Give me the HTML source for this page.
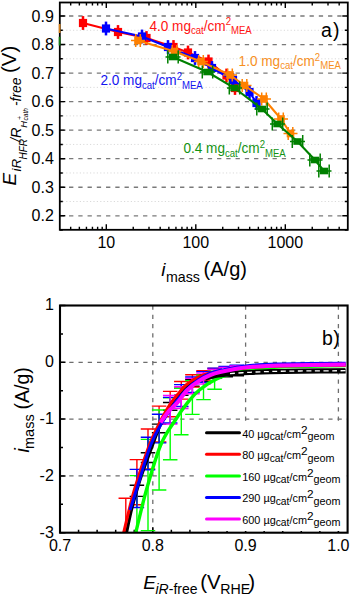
<!DOCTYPE html><html><head><meta charset="utf-8"><style>html,body{margin:0;padding:0;width:350px;height:596px;overflow:hidden;background:#fff}</style></head><body><svg width="350" height="596" viewBox="0 0 350 596" style="display:block;position:absolute;left:0;top:0">
<rect width="350" height="596" fill="#fff"/>
<line x1="59.8" y1="215.78" x2="347.8" y2="215.78" stroke="#7a7a7a" stroke-width="1.3" stroke-dasharray="4.3 4.95"/>
<line x1="59.8" y1="187.24" x2="347.8" y2="187.24" stroke="#7a7a7a" stroke-width="1.3" stroke-dasharray="4.3 4.95"/>
<line x1="59.8" y1="158.70" x2="347.8" y2="158.70" stroke="#7a7a7a" stroke-width="1.3" stroke-dasharray="4.3 4.95"/>
<line x1="59.8" y1="130.16" x2="347.8" y2="130.16" stroke="#7a7a7a" stroke-width="1.3" stroke-dasharray="4.3 4.95"/>
<line x1="59.8" y1="101.62" x2="347.8" y2="101.62" stroke="#7a7a7a" stroke-width="1.3" stroke-dasharray="4.3 4.95"/>
<line x1="59.8" y1="73.08" x2="347.8" y2="73.08" stroke="#7a7a7a" stroke-width="1.3" stroke-dasharray="4.3 4.95"/>
<line x1="59.8" y1="44.54" x2="347.8" y2="44.54" stroke="#7a7a7a" stroke-width="1.3" stroke-dasharray="4.3 4.95"/>
<line x1="59.8" y1="16.00" x2="347.8" y2="16.00" stroke="#7a7a7a" stroke-width="1.3" stroke-dasharray="4.3 4.95"/>
<line x1="62.8" y1="201.51" x2="347.8" y2="201.51" stroke="#dadada" stroke-width="1" stroke-dasharray="1.2 2.2"/>
<line x1="62.8" y1="172.97" x2="347.8" y2="172.97" stroke="#dadada" stroke-width="1" stroke-dasharray="1.2 2.2"/>
<line x1="62.8" y1="144.43" x2="347.8" y2="144.43" stroke="#dadada" stroke-width="1" stroke-dasharray="1.2 2.2"/>
<line x1="62.8" y1="115.89" x2="347.8" y2="115.89" stroke="#dadada" stroke-width="1" stroke-dasharray="1.2 2.2"/>
<line x1="62.8" y1="87.35" x2="347.8" y2="87.35" stroke="#dadada" stroke-width="1" stroke-dasharray="1.2 2.2"/>
<line x1="62.8" y1="58.81" x2="347.8" y2="58.81" stroke="#dadada" stroke-width="1" stroke-dasharray="1.2 2.2"/>
<line x1="62.8" y1="30.27" x2="347.8" y2="30.27" stroke="#dadada" stroke-width="1" stroke-dasharray="1.2 2.2"/>
<path d="M59.8,215.78h5.5M347.8,215.78h-5.5M59.8,187.24h5.5M347.8,187.24h-5.5M59.8,158.70h5.5M347.8,158.70h-5.5M59.8,130.16h5.5M347.8,130.16h-5.5M59.8,101.62h5.5M347.8,101.62h-5.5M59.8,73.08h5.5M347.8,73.08h-5.5M59.8,44.54h5.5M347.8,44.54h-5.5M59.8,16.00h5.5M347.8,16.00h-5.5M59.8,230.05h3M347.8,230.05h-3M59.8,201.51h3M347.8,201.51h-3M59.8,172.97h3M347.8,172.97h-3M59.8,144.43h3M347.8,144.43h-3M59.8,115.89h3M347.8,115.89h-3M59.8,87.35h3M347.8,87.35h-3M59.8,58.81h3M347.8,58.81h-3M59.8,30.27h3M347.8,30.27h-3M70.68,229.8v-3M70.68,2.5v3M79.36,229.8v-3M79.36,2.5v3M86.44,229.8v-3M86.44,2.5v3M92.44,229.8v-3M92.44,2.5v3M97.63,229.8v-3M97.63,2.5v3M102.20,229.8v-3M102.20,2.5v3M106.30,229.8v-5.5M106.30,2.5v5.5M133.24,229.8v-3M133.24,2.5v3M149.00,229.8v-3M149.00,2.5v3M160.18,229.8v-3M160.18,2.5v3M168.86,229.8v-3M168.86,2.5v3M175.94,229.8v-3M175.94,2.5v3M181.94,229.8v-3M181.94,2.5v3M187.13,229.8v-3M187.13,2.5v3M191.70,229.8v-3M191.70,2.5v3M195.80,229.8v-5.5M195.80,2.5v5.5M222.74,229.8v-3M222.74,2.5v3M238.50,229.8v-3M238.50,2.5v3M249.68,229.8v-3M249.68,2.5v3M258.36,229.8v-3M258.36,2.5v3M265.44,229.8v-3M265.44,2.5v3M271.44,229.8v-3M271.44,2.5v3M276.63,229.8v-3M276.63,2.5v3M281.20,229.8v-3M281.20,2.5v3M285.30,229.8v-5.5M285.30,2.5v5.5M312.24,229.8v-3M312.24,2.5v3M328.00,229.8v-3M328.00,2.5v3M339.18,229.8v-3M339.18,2.5v3" stroke="#000" stroke-width="1.4" fill="none"/>
<rect x="78.9" y="18.9" width="8.2" height="8.2" fill="#ff0000"/><rect x="81.75" y="16.1" width="2.5" height="13.8" fill="#ff0000"/><rect x="113.9" y="27.9" width="8.2" height="8.2" fill="#ff0000"/><rect x="116.75" y="25.1" width="2.5" height="13.8" fill="#ff0000"/><rect x="142.4" y="33.9" width="8.2" height="8.2" fill="#ff0000"/><rect x="145.25" y="31.1" width="2.5" height="13.8" fill="#ff0000"/><rect x="169.4" y="42.9" width="8.2" height="8.2" fill="#ff0000"/><rect x="172.25" y="40.1" width="2.5" height="13.8" fill="#ff0000"/><rect x="183.9" y="48.4" width="8.2" height="8.2" fill="#ff0000"/><rect x="186.75" y="45.6" width="2.5" height="13.8" fill="#ff0000"/><rect x="204.4" y="57.4" width="8.2" height="8.2" fill="#ff0000"/><rect x="207.25" y="54.6" width="2.5" height="13.8" fill="#ff0000"/><rect x="222.4" y="71.4" width="8.2" height="8.2" fill="#ff0000"/><rect x="225.25" y="68.6" width="2.5" height="13.8" fill="#ff0000"/><rect x="230.9" y="83.9" width="8.2" height="8.2" fill="#ff0000"/><rect x="233.75" y="81.1" width="2.5" height="13.8" fill="#ff0000"/>
<path d="M83,23 L118,32 L146.5,38 L173.5,47 L188,52.5 L208.5,61.5 L226.5,75.5 L235,88" stroke="#ff0000" stroke-width="2.1" fill="none"/>
<rect x="101.9" y="24.4" width="8.2" height="8.2" fill="#0000ff"/><rect x="104.75" y="21.6" width="2.5" height="13.8" fill="#0000ff"/><rect x="137.9" y="32.4" width="8.2" height="8.2" fill="#0000ff"/><rect x="140.75" y="29.6" width="2.5" height="13.8" fill="#0000ff"/><rect x="163.9" y="42.9" width="8.2" height="8.2" fill="#0000ff"/><rect x="166.75" y="40.1" width="2.5" height="13.8" fill="#0000ff"/><rect x="190.9" y="53.9" width="8.2" height="8.2" fill="#0000ff"/><rect x="193.75" y="51.1" width="2.5" height="13.8" fill="#0000ff"/><rect x="207.9" y="63.9" width="8.2" height="8.2" fill="#0000ff"/><rect x="210.75" y="61.1" width="2.5" height="13.8" fill="#0000ff"/><rect x="228.9" y="75.9" width="8.2" height="8.2" fill="#0000ff"/><rect x="231.75" y="73.1" width="2.5" height="13.8" fill="#0000ff"/><rect x="245.4" y="87.9" width="8.2" height="8.2" fill="#0000ff"/><rect x="248.25" y="85.1" width="2.5" height="13.8" fill="#0000ff"/><rect x="252.4" y="98.9" width="8.2" height="8.2" fill="#0000ff"/><rect x="255.25" y="96.1" width="2.5" height="13.8" fill="#0000ff"/>
<path d="M106,28.5 L142,36.5 L168,47 L195,58 L212,68 L233,80 L249.5,92 L256.5,103" stroke="#0000ff" stroke-width="2.1" fill="none"/>
<rect x="134.2" y="36.7" width="7.6" height="7.6" fill="#ff8000"/><path d="M135.7,34.0v13M140.3,34.0v13M131,40.5h14" stroke="#ff8000" stroke-width="1.5"/><rect x="170.7" y="47.7" width="7.6" height="7.6" fill="#ff8000"/><path d="M172.2,45.0v13M176.8,45.0v13M167.5,51.5h14" stroke="#ff8000" stroke-width="1.5"/><rect x="197.2" y="57.7" width="7.6" height="7.6" fill="#ff8000"/><path d="M198.7,55.0v13M203.3,55.0v13M194,61.5h14" stroke="#ff8000" stroke-width="1.5"/><rect x="226.2" y="71.2" width="7.6" height="7.6" fill="#ff8000"/><path d="M227.7,68.5v13M232.3,68.5v13M223,75h14" stroke="#ff8000" stroke-width="1.5"/><rect x="240.7" y="81.7" width="7.6" height="7.6" fill="#ff8000"/><path d="M242.2,79.0v13M246.8,79.0v13M237.5,85.5h14" stroke="#ff8000" stroke-width="1.5"/><rect x="260.2" y="95.2" width="7.6" height="7.6" fill="#ff8000"/><path d="M261.7,92.5v13M266.3,92.5v13M257,99h14" stroke="#ff8000" stroke-width="1.5"/><rect x="277.2" y="115.2" width="7.6" height="7.6" fill="#ff8000"/><path d="M278.7,112.5v13M283.3,112.5v13M274,119h14" stroke="#ff8000" stroke-width="1.5"/><rect x="286.7" y="129.7" width="7.6" height="7.6" fill="#ff8000"/><path d="M288.2,127.0v13M292.8,127.0v13M283.5,133.5h14" stroke="#ff8000" stroke-width="1.5"/>
<path d="M138,40.5 L174.5,51.5 L201,61.5 L230,75 L244.5,85.5 L264,99 L281,119 L290.5,133.5" stroke="#ff8000" stroke-width="2.1" fill="none"/>
<rect x="168.8" y="53.7" width="8.4" height="6.6" fill="#008000"/><path d="M167.8,50.4v13.2M178.2,50.4v13.2M165.5,57h15" stroke="#008000" stroke-width="1.5"/><rect x="203.3" y="68.7" width="8.4" height="6.6" fill="#008000"/><path d="M202.3,65.4v13.2M212.7,65.4v13.2M200.0,72h15" stroke="#008000" stroke-width="1.5"/><rect x="230.3" y="84.7" width="8.4" height="6.6" fill="#008000"/><path d="M229.3,81.4v13.2M239.7,81.4v13.2M227.0,88h15" stroke="#008000" stroke-width="1.5"/><rect x="257.8" y="105.7" width="8.4" height="6.6" fill="#008000"/><path d="M256.8,102.4v13.2M267.2,102.4v13.2M254.5,109h15" stroke="#008000" stroke-width="1.5"/><rect x="273.3" y="120.7" width="8.4" height="6.6" fill="#008000"/><path d="M272.3,117.4v13.2M282.7,117.4v13.2M270.0,124h15" stroke="#008000" stroke-width="1.5"/><rect x="293.3" y="138.2" width="8.4" height="6.6" fill="#008000"/><path d="M292.3,134.9v13.2M302.7,134.9v13.2M290.0,141.5h15" stroke="#008000" stroke-width="1.5"/><rect x="310.8" y="156.7" width="8.4" height="6.6" fill="#008000"/><path d="M309.8,153.4v13.2M320.2,153.4v13.2M307.5,160h15" stroke="#008000" stroke-width="1.5"/><rect x="319.8" y="167.7" width="8.4" height="6.6" fill="#008000"/><path d="M318.8,164.4v13.2M329.2,164.4v13.2M316.5,171h15" stroke="#008000" stroke-width="1.5"/>
<path d="M173,57 L207.5,72 L234.5,88 L262,109 L277.5,124 L297.5,141.5 L315,160 L324,171" stroke="#008000" stroke-width="2.1" fill="none"/>
<rect x="59.8" y="2.5" width="288.00" height="227.30" fill="none" stroke="#000" stroke-width="1.8"/>
<line x1="59.599999999999994" y1="24" x2="59.599999999999994" y2="33" stroke="#d5801a" stroke-width="1.8"/>
<line x1="59.599999999999994" y1="36.8" x2="59.599999999999994" y2="45.5" stroke="#127a12" stroke-width="1.8"/>
<text x="53.8" y="221.38" text-anchor="end" style="font-family:'Liberation Sans',sans-serif;font-size:16px">0.2</text>
<text x="53.8" y="192.84" text-anchor="end" style="font-family:'Liberation Sans',sans-serif;font-size:16px">0.3</text>
<text x="53.8" y="164.30" text-anchor="end" style="font-family:'Liberation Sans',sans-serif;font-size:16px">0.4</text>
<text x="53.8" y="135.76" text-anchor="end" style="font-family:'Liberation Sans',sans-serif;font-size:16px">0.5</text>
<text x="53.8" y="107.22" text-anchor="end" style="font-family:'Liberation Sans',sans-serif;font-size:16px">0.6</text>
<text x="53.8" y="78.68" text-anchor="end" style="font-family:'Liberation Sans',sans-serif;font-size:16px">0.7</text>
<text x="53.8" y="50.14" text-anchor="end" style="font-family:'Liberation Sans',sans-serif;font-size:16px">0.8</text>
<text x="53.8" y="21.60" text-anchor="end" style="font-family:'Liberation Sans',sans-serif;font-size:16px">0.9</text>
<text x="106.30" y="248" text-anchor="middle" style="font-family:'Liberation Sans',sans-serif;font-size:16px">10</text>
<text x="195.80" y="248" text-anchor="middle" style="font-family:'Liberation Sans',sans-serif;font-size:16px">100</text>
<text x="285.30" y="248" text-anchor="middle" style="font-family:'Liberation Sans',sans-serif;font-size:16px">1000</text>
<text transform="translate(149.4,30.6) scale(1,1.06)" x="0" y="0" fill="#ff1414" style="font-family:'Liberation Sans',sans-serif;font-size:13.6px">4.0 mg<tspan dy="3" style="font-size:9.6px">cat</tspan><tspan dy="-3">/cm</tspan><tspan dy="-5" style="font-size:9.6px">2</tspan><tspan dy="8" style="font-size:9.6px">MEA</tspan></text>
<text transform="translate(238.6,66) scale(1,1.06)" x="0" y="0" fill="#f7901e" style="font-family:'Liberation Sans',sans-serif;font-size:13.6px">1.0 mg<tspan dy="3" style="font-size:9.6px">cat</tspan><tspan dy="-3">/cm</tspan><tspan dy="-5" style="font-size:9.6px">2</tspan><tspan dy="8" style="font-size:9.6px">MEA</tspan></text>
<text transform="translate(100.4,85.4) scale(1,1.06)" x="0" y="0" fill="#1414f0" style="font-family:'Liberation Sans',sans-serif;font-size:13.6px">2.0 mg<tspan dy="3" style="font-size:9.6px">cat</tspan><tspan dy="-3">/cm</tspan><tspan dy="-5" style="font-size:9.6px">2</tspan><tspan dy="8" style="font-size:9.6px">MEA</tspan></text>
<text transform="translate(183.4,153.4) scale(1,1.06)" x="0" y="0" fill="#139213" style="font-family:'Liberation Sans',sans-serif;font-size:13.6px">0.4 mg<tspan dy="3" style="font-size:9.6px">cat</tspan><tspan dy="-3">/cm</tspan><tspan dy="-5" style="font-size:9.6px">2</tspan><tspan dy="8" style="font-size:9.6px">MEA</tspan></text>
<text x="320.9" y="37.1" style="font-family:'Liberation Sans',sans-serif;font-size:19.5px;letter-spacing:1.2px">a)</text>
<text x="161.2" y="275.6" style="font-family:'Liberation Sans',sans-serif;font-size:19px;font-style:italic">i</text>
<text x="166.0" y="281.8" style="font-family:'Liberation Sans',sans-serif;font-size:14.2px">mass</text>
<text x="203.6" y="275.8" style="font-family:'Liberation Sans',sans-serif;font-size:20px">(A/g)</text>
<text transform="translate(0,200) rotate(-90)" x="14.5" y="15.9" style="font-family:'Liberation Sans',sans-serif;font-size:19px;font-style:italic">E</text>
<text transform="translate(0,200) rotate(-90)" x="28.6" y="20.6" style="font-family:'Liberation Sans',sans-serif;font-size:13.5px;font-style:italic">iR</text>
<text transform="translate(0,200) rotate(-90)" x="40.5" y="26.5" style="font-family:'Liberation Sans',sans-serif;font-size:10px;font-style:italic">HFR</text>
<text transform="translate(0,200) rotate(-90)" x="58.0" y="20.8" style="font-family:'Liberation Sans',sans-serif;font-size:14.5px;font-style:italic">/R</text>
<text transform="translate(0,200) rotate(-90)" x="72.3" y="26.6" style="font-family:'Liberation Sans',sans-serif;font-size:9.5px;font-style:italic">H</text>
<text transform="translate(0,200) rotate(-90)" x="80.2" y="22.4" style="font-family:'Liberation Sans',sans-serif;font-size:6.5px">+</text>
<text transform="translate(0,200) rotate(-90)" x="79.6" y="27.8" style="font-family:'Liberation Sans',sans-serif;font-size:6.5px;font-style:italic">cath</text>
<text transform="translate(0,200) rotate(-90)" x="94.0" y="20.7" style="font-family:'Liberation Sans',sans-serif;font-size:13.8px;font-style:italic">-free</text>
<text transform="translate(0,200) rotate(-90)" x="127.0" y="16.2" style="font-family:'Liberation Sans',sans-serif;font-size:20.5px">(V)</text>
<line x1="60.0" y1="362.30" x2="347.6" y2="362.30" stroke="#6e6e6e" stroke-width="1.3" stroke-dasharray="4.3 4.95"/>
<line x1="60.0" y1="419.10" x2="347.6" y2="419.10" stroke="#6e6e6e" stroke-width="1.3" stroke-dasharray="4.3 4.95"/>
<line x1="60.0" y1="475.90" x2="347.6" y2="475.90" stroke="#6e6e6e" stroke-width="1.3" stroke-dasharray="4.3 4.95"/>
<line x1="152.80" y1="305.5" x2="152.80" y2="532.7" stroke="#6e6e6e" stroke-width="1.3" stroke-dasharray="4.3 4.95"/>
<line x1="245.60" y1="305.5" x2="245.60" y2="532.7" stroke="#6e6e6e" stroke-width="1.3" stroke-dasharray="4.3 4.95"/>
<line x1="338.40" y1="305.5" x2="338.40" y2="532.7" stroke="#6e6e6e" stroke-width="1.3" stroke-dasharray="4.3 4.95"/>
<path d="M60.0,305.50h5.5M60.0,362.30h5.5M60.0,419.10h5.5M60.0,475.90h5.5M60.0,532.70h5.5M60.0,333.90h3M60.0,390.70h3M60.0,447.50h3M60.0,504.30h3M60.00,532.7v-5.5M78.56,532.7v-3M97.12,532.7v-3M115.68,532.7v-3M134.24,532.7v-3M152.80,532.7v-5.5M171.36,532.7v-3M189.92,532.7v-3M208.48,532.7v-3M227.04,532.7v-3M245.60,532.7v-5.5M264.16,532.7v-3M282.72,532.7v-3M301.28,532.7v-3M319.84,532.7v-3M338.40,532.7v-5.5" stroke="#000" stroke-width="1.5" fill="none"/>
<clipPath id="cb"><rect x="60.0" y="305.5" width="287.6" height="227.20000000000005"/></clipPath>
<g clip-path="url(#cb)">
<path d="M136.90,485.28V496.42M129.65,485.28h14.5M129.65,496.42h14.5M148.00,452.69V462.51M140.75,452.69h14.5M140.75,462.51h14.5M159.10,424.17V432.82M151.85,424.17h14.5M151.85,432.82h14.5M170.20,402.54V410.30M162.95,402.54h14.5M162.95,410.30h14.5M181.30,388.11V395.29M174.05,388.11h14.5M174.05,395.29h14.5M192.40,379.39V386.21M185.15,379.39h14.5M185.15,386.21h14.5M203.50,374.75V381.38M196.25,374.75h14.5M196.25,381.38h14.5M214.60,371.85V378.36M207.35,371.85h14.5M207.35,378.36h14.5M225.70,370.35V376.80M218.45,370.35h14.5M218.45,376.80h14.5M236.80,369.37V375.78M229.55,369.37h14.5M229.55,375.78h14.5" stroke="#000" stroke-width="1.4" fill="none"/>
<path d="M125.80,498.21V534.70M118.55,498.21h14.5M136.90,459.61V504.79M129.65,459.61h14.5M129.65,504.79h14.5M148.00,428.97V468.83M140.75,428.97h14.5M140.75,468.83h14.5M159.10,406.12V442.00M151.85,406.12h14.5M151.85,442.00h14.5M170.20,391.35V416.73M162.95,391.35h14.5M162.95,416.73h14.5M181.30,381.45V399.12M174.05,381.45h14.5M174.05,399.12h14.5M192.40,374.68V387.09M185.15,374.68h14.5M185.15,387.09h14.5M203.50,370.76V380.11M196.25,370.76h14.5M196.25,380.11h14.5M214.60,368.37V375.87M207.35,368.37h14.5M207.35,375.87h14.5M225.70,367.21V373.80M218.45,367.21h14.5M218.45,373.80h14.5M236.80,366.09V371.81M229.55,366.09h14.5M229.55,371.81h14.5" stroke="#ff0000" stroke-width="1.4" fill="none"/>
<path d="M136.90,475.64V534.70M129.65,475.64h14.5M148.00,439.34V530.59M140.75,439.34h14.5M140.75,530.59h14.5M159.10,410.00V490.07M151.85,410.00h14.5M151.85,490.07h14.5M170.20,397.90V459.79M162.95,397.90h14.5M162.95,459.79h14.5M181.30,388.41V434.77M174.05,388.41h14.5M174.05,434.77h14.5M192.40,380.67V414.38M185.15,380.67h14.5M185.15,414.38h14.5M203.50,375.08V399.63M196.25,375.08h14.5M196.25,399.63h14.5M214.60,371.14V389.24M207.35,371.14h14.5M207.35,389.24h14.5" stroke="#00ff00" stroke-width="1.4" fill="none"/>
<path d="M136.90,469.34V507.52M129.65,469.34h14.5M129.65,507.52h14.5M148.00,437.20V469.79M140.75,437.20h14.5M140.75,469.79h14.5M159.10,414.30V442.91M151.85,414.30h14.5M151.85,442.91h14.5M170.20,397.37V423.03M162.95,397.37h14.5M162.95,423.03h14.5M181.30,384.58V406.53M174.05,384.58h14.5M174.05,406.53h14.5M192.40,376.96V392.38M185.15,376.96h14.5M185.15,392.38h14.5M203.50,371.60V382.44M196.25,371.60h14.5M196.25,382.44h14.5M214.60,368.17V376.07M207.35,368.17h14.5M207.35,376.07h14.5M225.70,366.38V372.73M218.45,366.38h14.5M218.45,372.73h14.5M236.80,365.08V370.32M229.55,365.08h14.5M229.55,370.32h14.5" stroke="#0000ff" stroke-width="1.4" fill="none"/>
<path d="M170.20,395.50V424.10M162.95,395.50h14.5M162.95,424.10h14.5M181.30,386.74V408.53M174.05,386.74h14.5M174.05,408.53h14.5M192.40,378.42V393.74M185.15,378.42h14.5M185.15,393.74h14.5M203.50,373.00V384.10M196.25,373.00h14.5M196.25,384.10h14.5M214.60,369.46V377.81M207.35,369.46h14.5M207.35,377.81h14.5M225.70,367.46V374.26M218.45,367.46h14.5M218.45,374.26h14.5M236.80,365.95V371.57M229.55,365.95h14.5M229.55,371.57h14.5" stroke="#ff00ff" stroke-width="1.4" fill="none"/>
<path d="M126.50,533.00 C127.42,528.83 129.75,516.83 132.00,508.00 C134.25,499.17 137.00,489.33 140.00,480.00 C143.00,470.67 146.33,461.83 150.00,452.00 C153.67,442.17 158.50,428.83 162.00,421.00 C165.50,413.17 168.17,409.50 171.00,405.00 C173.83,400.50 176.17,397.33 179.00,394.00 C181.83,390.67 184.50,387.50 188.00,385.00 C191.50,382.50 195.50,380.67 200.00,379.00 C204.50,377.33 210.00,376.00 215.00,375.00 C220.00,374.00 220.83,373.75 230.00,373.00 C239.17,372.25 250.83,371.03 270.00,370.50 C289.17,369.97 332.50,369.92 345.00,369.80" stroke="#000" stroke-width="3.0" fill="none"/>
<path d="M135.70,533.00 C137.48,525.83 142.23,504.67 146.40,490.00 C150.57,475.33 155.87,456.67 160.70,445.00 C165.53,433.33 170.95,427.02 175.40,420.00 C179.85,412.98 183.40,407.90 187.40,402.90 C191.40,397.90 194.53,394.00 199.40,390.00 C204.27,386.00 210.07,381.90 216.60,378.90 C223.13,375.90 229.70,373.90 238.60,372.00 C247.50,370.10 252.15,368.58 270.00,367.50 C287.85,366.42 333.08,365.83 345.70,365.50" stroke="#00ff00" stroke-width="3.4" fill="none"/>
<path d="M205.00,378.30 C206.67,377.85 210.83,376.35 215.00,375.60 C219.17,374.85 224.17,374.32 230.00,373.80 C235.83,373.28 243.33,372.85 250.00,372.50 C256.67,372.15 261.67,371.92 270.00,371.70 C278.33,371.48 287.38,371.33 300.00,371.20 C312.62,371.07 338.08,370.95 345.70,370.90" stroke="#000" stroke-width="5" fill="none"/>
<path d="M230.00,373.60 C233.33,373.38 243.33,372.65 250.00,372.30 C256.67,371.95 261.67,371.72 270.00,371.50 C278.33,371.28 287.38,371.13 300.00,371.00 C312.62,370.87 338.08,370.75 345.70,370.70" stroke="#fff" stroke-width="1.3" stroke-dasharray="5 3.5" fill="none"/>
<path d="M123.60,533.00 C125.38,525.83 130.02,504.67 134.30,490.00 C138.58,475.33 144.85,456.67 149.30,445.00 C153.75,433.33 157.55,426.78 161.00,420.00 C164.45,413.22 167.17,408.63 170.00,404.30 C172.83,399.97 175.33,397.22 178.00,394.00 C180.67,390.78 182.57,387.85 186.00,385.00 C189.43,382.15 193.77,379.07 198.60,376.90 C203.43,374.73 208.10,373.40 215.00,372.00 C221.90,370.60 229.17,369.50 240.00,368.50 C250.83,367.50 262.38,366.55 280.00,366.00 C297.62,365.45 334.75,365.33 345.70,365.20" stroke="#ff0000" stroke-width="3.0" fill="none"/>
<path d="M130.00,510.00 C131.07,506.67 132.95,500.83 136.40,490.00 C139.85,479.17 146.27,456.50 150.70,445.00 C155.13,433.50 158.95,428.00 163.00,421.00 C167.05,414.00 171.17,408.17 175.00,403.00 C178.83,397.83 182.17,393.83 186.00,390.00 C189.83,386.17 194.00,382.75 198.00,380.00 C202.00,377.25 206.33,375.08 210.00,373.50 C213.67,371.92 213.33,371.83 220.00,370.50 C226.67,369.17 240.00,366.58 250.00,365.50 C260.00,364.42 264.05,364.38 280.00,364.00 C295.95,363.62 334.75,363.33 345.70,363.20" stroke="#0000ff" stroke-width="3.0" fill="none"/>
<path d="M160.50,422.50 C161.83,420.67 165.73,414.77 168.50,411.50 C171.27,408.23 173.95,406.48 177.10,402.90 C180.25,399.32 183.68,393.72 187.40,390.00 C191.12,386.28 195.40,383.17 199.40,380.60 C203.40,378.03 207.97,376.03 211.40,374.60 C214.83,373.17 216.07,372.93 220.00,372.00 C223.93,371.07 230.00,369.83 235.00,369.00 C240.00,368.17 242.50,367.58 250.00,367.00 C257.50,366.42 264.05,365.90 280.00,365.50 C295.95,365.10 334.75,364.75 345.70,364.60" stroke="#ff00ff" stroke-width="4.0" fill="none"/>
</g>
<rect x="197" y="423" width="149" height="108" fill="#fff"/>
<line x1="206.5" y1="432.80" x2="239.5" y2="432.80" stroke="#000" stroke-width="3" stroke-linecap="round"/>
<text x="242.2" y="437.60" style="font-family:'Liberation Sans',sans-serif;font-size:10.9px">40 µg<tspan dy="2.5" style="font-size:10.3px">cat</tspan><tspan dy="-2.5">/cm</tspan><tspan dy="-4" style="font-size:11.8px">2</tspan><tspan dy="6.5" style="font-size:10.8px">geom</tspan></text>
<line x1="206.5" y1="454.35" x2="239.5" y2="454.35" stroke="#ff0000" stroke-width="3" stroke-linecap="round"/>
<text x="242.2" y="459.15" style="font-family:'Liberation Sans',sans-serif;font-size:10.9px">80 µg<tspan dy="2.5" style="font-size:10.3px">cat</tspan><tspan dy="-2.5">/cm</tspan><tspan dy="-4" style="font-size:11.8px">2</tspan><tspan dy="6.5" style="font-size:10.8px">geom</tspan></text>
<line x1="206.5" y1="475.90" x2="239.5" y2="475.90" stroke="#00ff00" stroke-width="3" stroke-linecap="round"/>
<text x="242.2" y="480.70" style="font-family:'Liberation Sans',sans-serif;font-size:10.9px">160 µg<tspan dy="2.5" style="font-size:10.3px">cat</tspan><tspan dy="-2.5">/cm</tspan><tspan dy="-4" style="font-size:11.8px">2</tspan><tspan dy="6.5" style="font-size:10.8px">geom</tspan></text>
<line x1="206.5" y1="497.45" x2="239.5" y2="497.45" stroke="#0000ff" stroke-width="3" stroke-linecap="round"/>
<text x="242.2" y="502.25" style="font-family:'Liberation Sans',sans-serif;font-size:10.9px">290 µg<tspan dy="2.5" style="font-size:10.3px">cat</tspan><tspan dy="-2.5">/cm</tspan><tspan dy="-4" style="font-size:11.8px">2</tspan><tspan dy="6.5" style="font-size:10.8px">geom</tspan></text>
<line x1="206.5" y1="519.00" x2="239.5" y2="519.00" stroke="#ff00ff" stroke-width="3" stroke-linecap="round"/>
<text x="242.2" y="523.80" style="font-family:'Liberation Sans',sans-serif;font-size:10.9px">600 µg<tspan dy="2.5" style="font-size:10.3px">cat</tspan><tspan dy="-2.5">/cm</tspan><tspan dy="-4" style="font-size:11.8px">2</tspan><tspan dy="6.5" style="font-size:10.8px">geom</tspan></text>
<rect x="60.0" y="305.5" width="287.60" height="227.20" fill="none" stroke="#000" stroke-width="2.1"/>
<text x="53.8" y="310.30" text-anchor="end" style="font-family:'Liberation Sans',sans-serif;font-size:16px">1</text>
<text x="53.8" y="367.10" text-anchor="end" style="font-family:'Liberation Sans',sans-serif;font-size:16px">0</text>
<text x="53.8" y="423.90" text-anchor="end" style="font-family:'Liberation Sans',sans-serif;font-size:16px">-1</text>
<text x="53.8" y="480.70" text-anchor="end" style="font-family:'Liberation Sans',sans-serif;font-size:16px">-2</text>
<text x="53.8" y="537.50" text-anchor="end" style="font-family:'Liberation Sans',sans-serif;font-size:16px">-3</text>
<text x="60.00" y="550.7" text-anchor="middle" style="font-family:'Liberation Sans',sans-serif;font-size:16px">0.7</text>
<text x="152.80" y="550.7" text-anchor="middle" style="font-family:'Liberation Sans',sans-serif;font-size:16px">0.8</text>
<text x="245.60" y="550.7" text-anchor="middle" style="font-family:'Liberation Sans',sans-serif;font-size:16px">0.9</text>
<text x="338.40" y="550.7" text-anchor="middle" style="font-family:'Liberation Sans',sans-serif;font-size:16px">1.0</text>
<text x="322.0" y="345.0" style="font-family:'Liberation Sans',sans-serif;font-size:19.5px;letter-spacing:0.4px">b)</text>
<text x="143.2" y="588.9" style="font-family:'Liberation Sans',sans-serif;font-size:19px;font-style:italic">E</text>
<text x="155.5" y="593.6" style="font-family:'Liberation Sans',sans-serif;font-size:14px;font-style:italic">iR</text>
<text x="168.8" y="593.6" style="font-family:'Liberation Sans',sans-serif;font-size:14px">-free</text>
<text x="200.3" y="588.9" style="font-family:'Liberation Sans',sans-serif;font-size:20.5px">(V</text>
<text x="220.3" y="593.8" style="font-family:'Liberation Sans',sans-serif;font-size:14.2px">RHE</text>
<text x="248.3" y="588.9" style="font-family:'Liberation Sans',sans-serif;font-size:20.5px">)</text>
<text transform="translate(0,460) rotate(-90)" x="7.5" y="28.5" style="font-family:'Liberation Sans',sans-serif;font-size:19.5px;font-style:italic">i</text>
<text transform="translate(0,460) rotate(-90)" x="11.0" y="34.0" style="font-family:'Liberation Sans',sans-serif;font-size:14.5px">mass</text>
<text transform="translate(0,460) rotate(-90)" x="50.5" y="28.5" style="font-family:'Liberation Sans',sans-serif;font-size:19.5px">(A/g)</text>
</svg></body></html>
